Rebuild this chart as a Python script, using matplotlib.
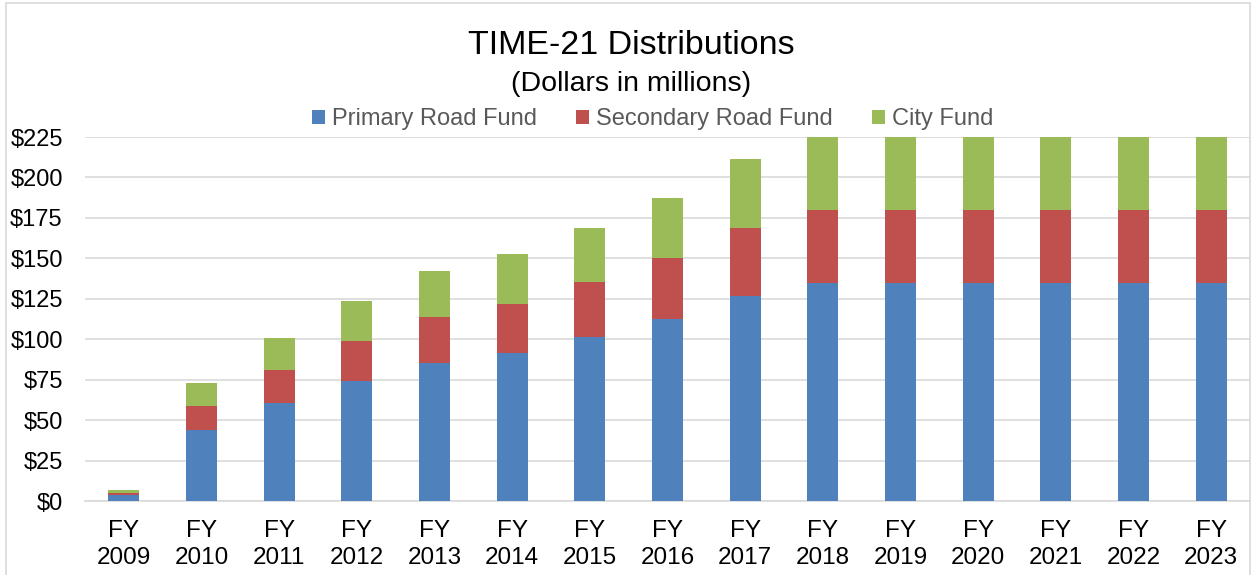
import numpy as np
import matplotlib.pyplot as plt
from matplotlib.patches import Rectangle

#%% data

years = ['FY\n2009', 'FY\n2010', 'FY\n2011', 'FY\n2012', 'FY\n2013', 'FY\n2014', 'FY\n2015', 'FY\n2016',
         'FY\n2017', 'FY\n2018', 'FY\n2019', 'FY\n2020', 'FY\n2021', 'FY\n2022', 'FY\n2023']
primary = [3.9, 44, 60.6, 74.2, 85.3, 91.5, 101.4, 112.5, 126.7, 135, 135, 135, 135, 135, 135]
secondary = [1.3, 14.6, 20.2, 24.7, 28.4, 30.5, 33.8, 37.5, 42.2, 45, 45, 45, 45, 45, 45]
city = [1.3, 14.6, 20.2, 24.7, 28.4, 30.5, 33.8, 37.5, 42.2, 45, 45, 45, 45, 45, 45]
yticks = np.arange(0, 226, 25)

#%% plot

plt.rcParams['font.family'] = ['Liberation Sans', 'DejaVu Sans']

fig = plt.figure(figsize=(12.53, 5.75), dpi=100)
ax = fig.add_axes([85/1253, 1-501/575, 1165/1253, 364/575])

x = np.arange(len(years))
w = 0.4
primary = np.array(primary)
secondary = np.array(secondary)
city = np.array(city)

ax.bar(x, primary, w, color='#4F81BD', label='Primary Road Fund', zorder=3)
ax.bar(x, secondary, w, bottom=primary, color='#C0504D', label='Secondary Road Fund', zorder=3)
ax.bar(x, city, w, bottom=primary+secondary, color='#9BBB59', label='City Fund', zorder=3)

ax.set_xlim(-0.5, len(years)-0.5)
ax.set_ylim(0, 225)
ax.set_yticks(yticks)
ax.set_yticklabels(['$' + str(v) for v in yticks])
ax.set_xticks(x)
ax.set_xticklabels(years, linespacing=1.28)
ax.tick_params(axis='x', length=0, labelsize=17.5, colors='black', pad=14)
ax.tick_params(axis='y', length=0, labelsize=17, colors='black', pad=16)
ax.grid(axis='y', color='#D9D9D9', linewidth=1.2, zorder=0)
for s in ['top', 'right', 'left']:
    ax.spines[s].set_visible(False)
ax.spines['bottom'].set_color('#D9D9D9')
ax.spines['bottom'].set_linewidth(1.2)

fig.text(631/1253, 1-46/575, 'TIME-21 Distributions', ha='center', va='center', fontsize=24.5)
fig.text(631/1253, 1-84/575, '(Dollars in millions)', ha='center', va='center', fontsize=20.5)

leg = fig.legend(loc='center', bbox_to_anchor=(653/1253, 1-119/575), ncol=3, frameon=False,
                 fontsize=17, handlelength=0.55, handleheight=0.55, handletextpad=0.3,
                 columnspacing=1.65, borderpad=0, borderaxespad=0)
for t in leg.get_texts():
    t.set_color('#595959')

# outer frame
fig.patches.append(Rectangle((6/1253, -0.01), 1244/1253, 1-3/575+0.01, transform=fig.transFigure,
                             fill=False, edgecolor='#D9D9D9', linewidth=1.2))

fig.savefig('out.png', dpi=100)
